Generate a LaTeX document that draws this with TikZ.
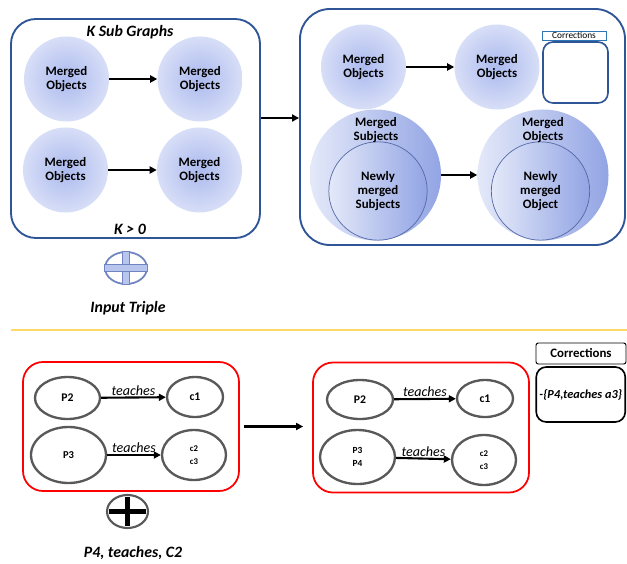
\documentclass[tikz,border=0pt]{standalone}
\usepackage{fontspec}
\setmainfont{Carlito}
\usepackage{tikz}
\usetikzlibrary{
  arrows.meta,
  shapes.geometric,
  positioning
}
\definecolor{cblue}{RGB}{47,85,151}
\definecolor{lblue}{RGB}{46,117,182}
\definecolor{cred}{RGB}{255,0,0}
\definecolor{cgray}{RGB}{89,89,89}
\definecolor{cgold}{RGB}{255,217,102}
\definecolor{bcore}{RGB}{172,186,238}
\definecolor{bedge}{RGB}{215,222,247}
\definecolor{bleft}{RGB}{228,233,249}
\definecolor{bright}{RGB}{146,164,228}
\definecolor{cedge}{RGB}{84,104,166}
\definecolor{pline}{RGB}{111,132,192}
\definecolor{pfill}{RGB}{184,198,238}
\tikzset{
  panel/.style={
    rectangle, rounded corners=#1,
    draw=cblue, line width=1.6pt, inner sep=0pt
  },
  panel/.default=0.75cm,
  redbox/.style={
    rectangle, rounded corners=0.6cm,
    draw=cred, line width=1.5pt, inner sep=0pt
  },
  blob/.style={
    circle, shading=radial, inner color=bcore, outer color=bedge,
    minimum size=2.55cm, inner sep=0pt,
    font=\bfseries\fontsize{11}{12}\selectfont, align=center
  },
  bigblob/.style={
    circle, left color=bleft, right color=bright,
    minimum size=3.93cm, inner sep=0pt
  },
  innerblob/.style={
    bigblob, draw=cedge, line width=0.6pt, minimum size=2.95cm,
    font=\bfseries\fontsize{11}{12}\selectfont, align=center
  },
  lbl/.style={
    font=\bfseries\fontsize{11}{12}\selectfont, align=center
  },
  caption/.style={
    font=\bfseries\itshape\fontsize{13.5}{15}\selectfont
  },
  oval/.style={
    ellipse, draw=cgray, line width=2pt, inner sep=0pt,
    font=\bfseries\fontsize{10}{12}\selectfont, align=center
  },
  ovalS/.style={
    oval, font=\bfseries\fontsize{7.5}{11}\selectfont
  },
  rel/.style={
    font=\itshape\fontsize{12}{14}\selectfont, inner sep=1pt
  },
  plusring/.style={
    ellipse, inner sep=0pt, line width=1.5pt
  },
  arr/.style={-{Triangle[length=6pt,width=6pt]}, line width=1.8pt, color=#1},
  arr/.default=black
}
\begin{document}
\begin{tikzpicture}[x=0.03cm, y=-0.03cm]
    \useasboundingbox (0,0) rectangle (627,563);

    %% ---- K sub graphs ----------------------------------------------
    \node[panel, minimum width=7.47cm, minimum height=6.57cm]
      (kbox) at (135.5,128.5) {};
    \node[caption] (ktitle) at (130,32) {K Sub Graphs};
    \node[caption] (kcond) at (130,229) {K > 0};

    \node[blob] (a1) at (66.5,79)  {Merged\\Objects};
    \node[blob] (a2) at (200,79)   {Merged\\Objects};
    \node[blob] (b1) at (65.5,170) {Merged\\Objects};
    \node[blob] (b2) at (199.5,170) {Merged\\Objects};
    \draw[arr] (a1)--(a2);
    \draw[arr] (b1)--(b2);

    %% ---- input triple ----------------------------------------------
    \node[plusring, draw=pline, fill=white,
          minimum width=1.26cm, minimum height=0.96cm] (tplus) at (126,268) {};
    \foreach \s/\e in {north/south,west/east}{
      \draw[line width=7pt, pline] (tplus.\s)--(tplus.\e);
      \draw[line width=5pt, pfill, shorten <=1pt, shorten >=1pt]
        (tplus.\s)--(tplus.\e);
    }
    \node[caption] (intrip) at (128,308) {Input Triple};

    %% ---- merged graph ----------------------------------------------
    \node[panel=0.9cm, minimum width=9.75cm, minimum height=7.08cm]
      (gbox) at (462.5,127) {};
    \draw[arr] ([yshift=0.315cm]kbox.east)--([yshift=0.315cm]kbox.east -| gbox.west);

    \node[blob] (c1) at (363.5,67) {Merged\\Objects};
    \node[blob] (c2) at (497,67)   {Merged\\Objects};
    \draw[arr] (c1)--(c2);

    \node[draw=lblue, line width=0.8pt, inner sep=0pt,
          minimum width=1.92cm, minimum height=0.27cm,
          font=\fontsize{8}{8}\selectfont] (clab) at (574,35.5) {Corrections};
    \node[draw=cblue, line width=1.4pt, rounded corners=0.3cm,
          minimum width=1.95cm, minimum height=1.83cm] (cbox) at (575.5,72.5) {};

    \node[bigblob] (ms) at (375.5,175) {};
    \node[bigblob] (mo) at (543,175)   {};
    \node[innerblob] (nms) at (378,191)   {Newly\\merged\\Subjects};
    \node[innerblob] (nmo) at (540.5,191) {Newly\\merged\\Object};
    \node[lbl] (mst) at (376,130) {Merged\\Subjects};
    \node[lbl] (mot) at (543,130) {Merged\\Objects};
    \draw[arr] (ms)--(mo);

    %% ---- separator -------------------------------------------------
    \draw[cgold, line width=2pt] (11,330)--(627,330);

    %% ---- example: before -------------------------------------------
    \node[redbox, minimum width=6.48cm, minimum height=3.87cm]
      (lbox) at (131,426.5) {};
    \node[oval, minimum width=1.95cm, minimum height=1.26cm] (p2) at (67.5,398) {P2};
    \node[oval, minimum width=1.68cm, minimum height=1.2cm]  (k1) at (195,397)  {c1};
    \node[oval, font=\bfseries\fontsize{9}{11}\selectfont,
          minimum width=2.25cm, minimum height=1.68cm] (p3) at (68.5,455) {P3};
    \node[ovalS, minimum width=1.92cm, minimum height=1.5cm] (k23) at (194,455) {c2\\c3};
    \draw[arr] (p2)--(k1) node[rel, midway, above] (t1) {teaches};
    \draw[arr] (p3)--(k23) node[rel, midway, above] (t2) {teaches};

    \node[plusring, draw=cgray, line width=1.8pt,
          minimum width=1.23cm, minimum height=0.99cm] (bplus) at (127.5,511.5) {};
    \foreach \s/\e in {north/south,west/east}{
      \draw[line width=4pt, shorten <=3pt, shorten >=3pt] (bplus.\s)--(bplus.\e);
    }
    \node[caption] (newtrip) at (133,553) {P4, teaches, C2};

    %% ---- example: after --------------------------------------------
    \node[redbox, minimum width=6.48cm, minimum height=3.9cm]
      (rbox) at (421,427.5) {};
    \draw[arr, shorten <=1.2mm, shorten >=2.7mm] (lbox.east)--(lbox.east -| rbox.west);

    \node[oval, minimum width=1.98cm, minimum height=1.17cm] (q2) at (360,399.5) {P2};
    \node[oval, minimum width=1.68cm, minimum height=1.11cm] (m1) at (485,398.5) {c1};
    \node[ovalS, font=\bfseries\fontsize{8}{11}\selectfont,
          minimum width=2.25cm, minimum height=1.62cm] (q34) at (357.5,457) {P3\\P4};
    \node[ovalS, minimum width=1.92cm, minimum height=1.5cm] (m23) at (484,460) {c2\\c3};
    \draw[arr] (q2)--(m1) node[rel, midway, above] (t3) {teaches};
    \draw[arr] (q34)--(m23) node[rel, midway, above] (t4) {teaches};

    %% ---- corrections -----------------------------------------------
    \node[draw, line width=0.8pt, rounded corners=2pt,
          minimum width=2.7cm, minimum height=0.63cm,
          font=\bfseries\fontsize{11}{12}\selectfont] (chead) at (581,353.5) {Corrections};
    \node[draw, line width=1.4pt, rounded corners=0.3cm, inner sep=0pt,
          minimum width=2.67cm, minimum height=1.65cm,
          font=\bfseries\itshape\fontsize{10.5}{12}\selectfont]
      (cbody) at (580.75,394.5) {-\{P4,teaches a3\}};

\end{tikzpicture}
\end{document}
